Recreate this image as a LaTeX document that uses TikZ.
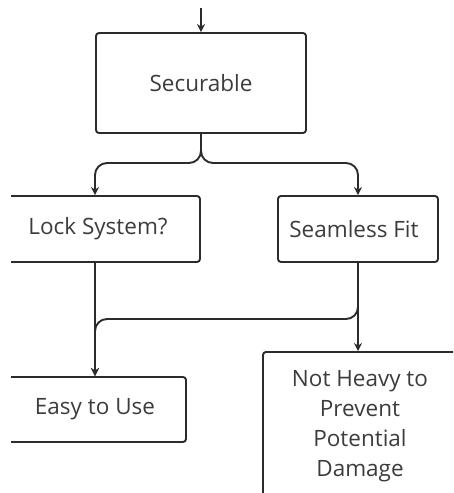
\documentclass[tikz,border=0pt]{standalone}
\usepackage{fontspec}
\setmainfont{Open Sans}
\usetikzlibrary{arrows.meta}
\definecolor{ink}{HTML}{2B2B2B}
\definecolor{txt}{HTML}{3C3C3C}
\begin{document}
\begin{tikzpicture}[x=1pt,y=-1pt,
  box/.style={draw=ink, line width=1.9pt, rounded corners=3pt, inner sep=0pt,
    font=\fontsize{22.5}{30}\selectfont, text=txt, align=center},
  conn/.style={draw=ink, line width=1.9pt, -{Stealth[length=8pt,width=8pt]}},
]
\useasboundingbox (0,0) rectangle (453,493);
\begin{scope}
  \clip (11,0) rectangle (453,493);
  % boxes
  \node[box, minimum width=210pt, minimum height=100pt] (sec) at (201,83) {Securable};
  \node[box, minimum width=210pt, minimum height=66pt] (lock) at (95,229) {\hspace*{6pt}Lock System?};
  \node[box, minimum width=160pt, minimum height=66pt] (seam) at (358,229) {Seamless Fit\hspace*{8pt}};
  \node[box, minimum width=182pt, minimum height=65pt] (easy) at (95,409.5) {Easy to Use};
  \node[box, minimum width=194pt, minimum height=148pt, anchor=north] (heavy) at (360,351)
    {Not Heavy to\\Prevent\\Potential\\Damage};
  % connectors
  \coordinate (src) at (201,8);
  \coordinate (fork) at (201,163);
  \coordinate (merge) at (95,319);
  \draw[conn] (src) -- (sec.north);
  \draw[conn, rounded corners=12pt] (sec.south) |- (lock.north |- fork) -- (lock.north);
  \draw[conn, rounded corners=12pt] (sec.south) |- (seam.north |- fork) -- (seam.north);
  \draw[conn] (lock.south) -- (easy.north);
  \draw[conn, rounded corners=12pt] (seam.south) |- (merge) -- (easy.north);
  \draw[conn] (seam.south) -- (seam.south |- heavy.north);
\end{scope}
\end{tikzpicture}
\end{document}
